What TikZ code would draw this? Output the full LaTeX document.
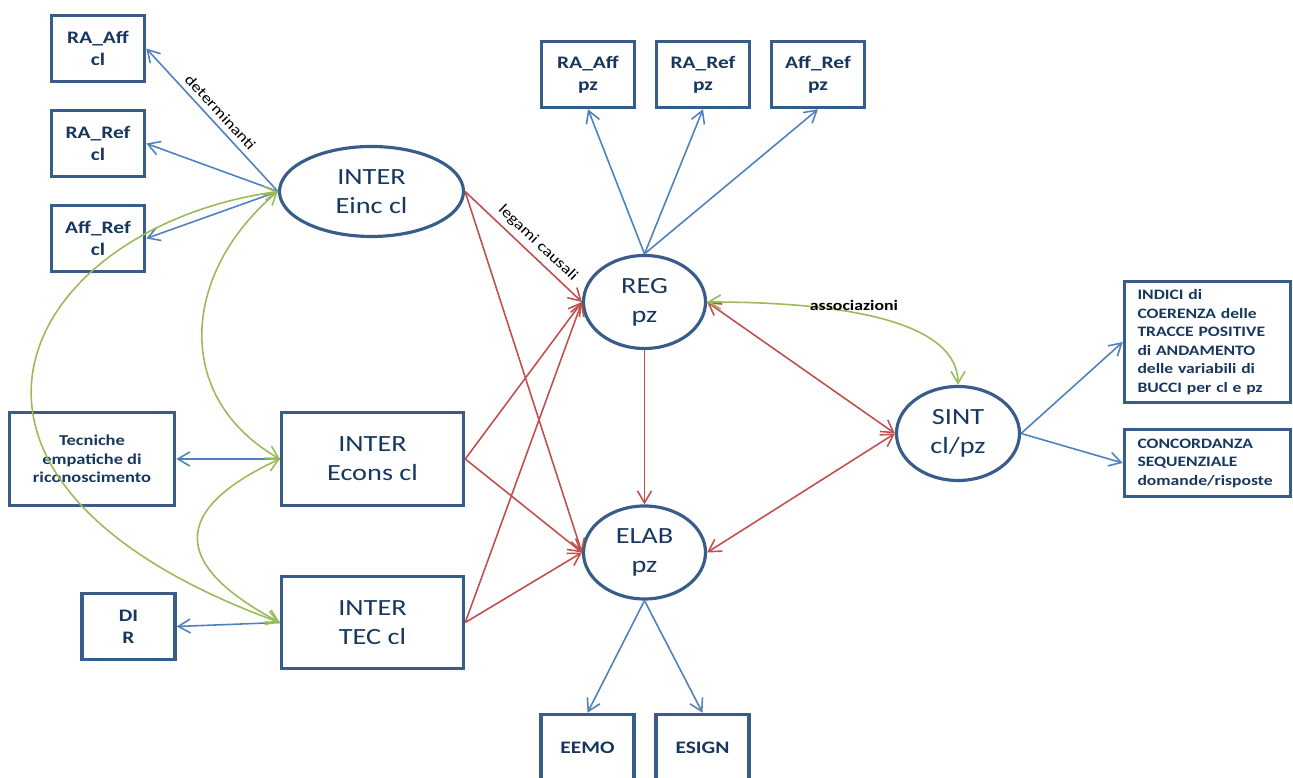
\documentclass[tikz,border=0pt]{standalone}
\usepackage{fontspec}
\setmainfont{Carlito}[FakeStretch=1.22]
\usepackage{tikz}
\usepackage{xcolor}
\usetikzlibrary{shapes.geometric,arrows.meta}
\definecolor{boxblue}{HTML}{385D8A}
\definecolor{txtblue}{HTML}{17375E}
\definecolor{linkblue}{HTML}{4F81BD}
\definecolor{linkred}{HTML}{C0504D}
\definecolor{linkgreen}{HTML}{9BBB59}
\tikzset{
    >={Straight Barb[length=2.4mm,width=2.8mm]},
    var-box/.style = {draw=boxblue, line width=2pt, rectangle, text=txtblue, align=center, font=\bfseries\fontsize{10}{12.6}\selectfont, minimum width=18.6mm, minimum height=13.2mm},
    inter-box/.style = {var-box, font=\fontsize{13.2}{16.6}\selectfont, minimum width=36.4mm, minimum height=18.6mm},
    note-box/.style = {var-box, font=\bfseries\fontsize{8.2}{10.5}\selectfont, minimum width=33.2mm},
    latent/.style = {draw=boxblue, line width=1.8pt, ellipse, text=txtblue, align=center, font=\fontsize{13.2}{16.6}\selectfont, minimum width=24.4mm, minimum height=18.6mm},
    blue-link/.style = {draw=linkblue, line width=.9pt, ->},
    red-link/.style = {draw=linkred, line width=.9pt, ->},
    green-link/.style = {draw=linkgreen, line width=.9pt, <->},
    edge-label/.style = {font=\fontsize{8.5}{10}\selectfont, text=black, inner sep=3pt},
}

\begin{document}
\begin{tikzpicture}[x=0.2mm, y=0.2mm]
\useasboundingbox (0,0) rectangle (1293,778);

\node[var-box] (raaffcl) at (98,729.5) {RA\_Aff\\cl};
\node[var-box] (rarefcl) at (98,634.5) {RA\_Ref\\cl};
\node[var-box] (affrefcl) at (98,539.5) {Aff\_Ref\\cl};
\node[latent, minimum width=36.8mm, minimum height=18mm] (eincl) at (371.5,586.5) {INTER\\Einc cl};

\node[var-box] (raaffpz) at (588,703.5) {RA\_Aff\\pz};
\node[var-box] (rarefpz) at (703,703.5) {RA\_Ref\\pz};
\node[var-box] (affrefpz) at (818,703.5) {Aff\_Ref\\pz};
\node[latent] (reg) at (644.5,476) {REG\\pz};
\node[latent] (elab) at (644.5,225.5) {ELAB\\pz};
\node[latent, minimum width=24.6mm, minimum height=18.8mm] (sint) at (958,344.5) {SINT\\cl/pz};

\node[note-box, minimum height=24.2mm, text width=28mm, align=left] (indici) at (1207.5,436) {INDICI di\\COERENZA delle\\TRACCE POSITIVE\\di ANDAMENTO\\delle variabili di\\BUCCI per cl e pz};
\node[note-box, minimum height=13.4mm, text width=28mm, align=left] (concord) at (1207.5,315) {CONCORDANZA\\SEQUENZIALE\\domande/risposte};

\node[note-box, font=\bfseries\fontsize{8.6}{10.6}\selectfont, minimum width=33mm, minimum height=18.6mm] (tecniche) at (92,319) {Tecniche\\empatiche di\\riconoscimento};
\node[inter-box] (econs) at (372.5,319) {INTER\\Econs cl};
\node[var-box] (dir) at (128.5,151.5) {DI\\R};
\node[inter-box, minimum height=18.4mm] (tec) at (372.5,155.5) {INTER\\TEC cl};

\node[var-box] (eemo) at (587.5,30.5) {EEMO};
\node[var-box] (esign) at (702.5,30.5) {ESIGN};

\draw[blue-link] (eincl.west) -- node[edge-label, sloped, above] {determinanti} (raaffcl.east);
\draw[blue-link] (eincl.west) -- (rarefcl.east);
\draw[blue-link] (eincl.west) -- (affrefcl.east);
\draw[blue-link] (reg.north) -- (raaffpz.south);
\draw[blue-link] (reg.north) -- (rarefpz.south);
\draw[blue-link] (reg.north) -- (affrefpz.south);
\draw[blue-link] (elab.south) -- (eemo.north);
\draw[blue-link] (elab.south) -- (esign.north);
\draw[blue-link] (sint.east) -- (indici.west);
\draw[blue-link] (sint.east) -- (concord.west);
\draw[blue-link] (econs.west) -- (tecniche.east);
\draw[blue-link] (tec.west) -- (dir.east);

\draw[red-link] (eincl.east) -- node[edge-label, sloped, above, pos=.55] {legami causali} (reg.west);
\draw[red-link] (eincl.east) -- (elab.west);
\draw[red-link] (econs.east) -- (reg.west);
\draw[red-link] (econs.east) -- (elab.west);
\draw[red-link] (tec.east) -- (reg.west);
\draw[red-link] (tec.east) -- (elab.west);
\draw[red-link] (reg.south) -- (elab.north);
\draw[red-link, <->] (reg.east) -- (sint.west);
\draw[red-link, <->] (elab.east) -- (sint.west);

\draw[green-link] (reg.east) .. controls +(0:150) and +(90:60) .. node[edge-label, font=\bfseries\fontsize{8.3}{10}\selectfont, pos=.38, above, inner sep=1pt] {associazioni} (sint.north);
\draw[green-link] (eincl.west) .. controls +(220:125) and +(150:125) .. (econs.west);
\draw[green-link] (econs.west) .. controls +(205:122) and +(152:122) .. (tec.west);
\draw[green-link] (eincl.west) .. controls +(188:260) and +(160:420) .. (tec.west);
\end{tikzpicture}
\end{document}
